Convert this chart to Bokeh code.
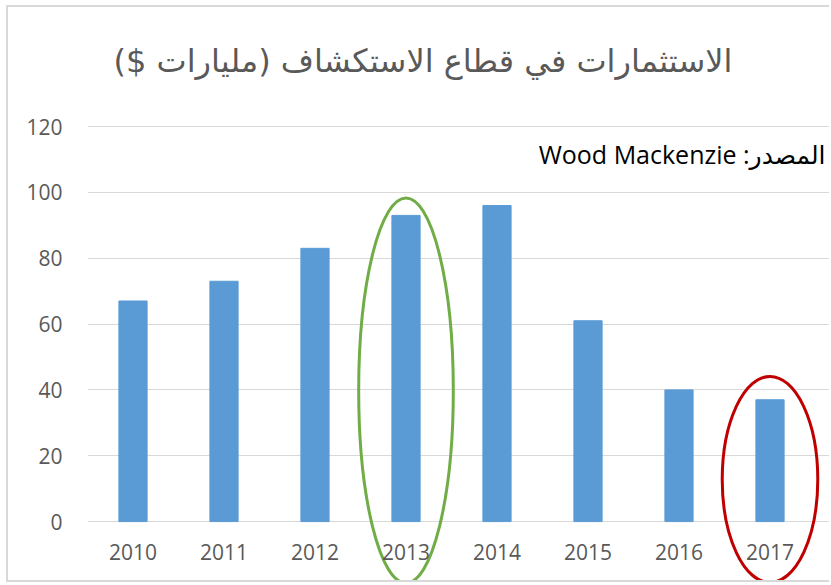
from bokeh.plotting import figure
from bokeh.models import Range1d, FixedTicker, Label, ColumnDataSource
from bokeh.embed import file_html
from bokeh.resources import INLINE

years = ["2010", "2011", "2012", "2013", "2014", "2015", "2016", "2017"]
investment = [67, 73, 83, 93, 96, 61, 40, 37]
y_ticks = [0, 20, 40, 60, 80, 100, 120]

title_text = "الاستثمارات في قطاع الاستكشاف (مليارات $)" + "\u200F"
source_text = "Wood Mackenzie :المصدر"

# highlight ellipses: year, centre value, width (categories), height (values), colour
hl_year = ["2013", "2017"]
hl_y = [39.8, 12.8]
hl_w = [1.04, 1.05]
hl_h = [117, 62.6]
hl_color = ["#70ad47", "#c00000"]

pos = list(range(len(years)))
px_per_cat = 91.0

p = figure(
    x_range=Range1d(-0.5, len(years) - 0.5 + 14 / px_per_cat),
    y_range=Range1d(-17.9, 127.9),
    frame_width=742, frame_height=480,
    min_border_left=79, min_border_right=0, min_border_top=93, min_border_bottom=0,
    output_backend="svg", toolbar_location=None,
    title=title_text,
)
p.styles = {
    "margin-left": "6px", "margin-top": "5px",
    "border-left": "2px solid #d9d9d9",
    "border-top": "2px solid #d9d9d9",
    "border-bottom": "2px solid #d9d9d9",
}
p.title.align = "left"
p.title.offset = 26
p.title.text_font = "DejaVu Sans"
p.title.text_font_size = "32px"
p.title.text_font_style = "normal"
p.title.text_color = "#595959"
p.title.standoff = 41

src = ColumnDataSource(dict(x=pos, top=investment))
p.vbar(x="x", top="top", width=0.31, source=src, color="#5b9bd5")

esrc = ColumnDataSource(dict(x=[years.index(y) for y in hl_year], y=hl_y, w=hl_w, h=hl_h, c=hl_color))
p.ellipse(x="x", y="y", width="w", height="h", source=esrc, fill_alpha=0,
          line_color="c", line_width=3)

p.xaxis.ticker = FixedTicker(ticks=pos)
p.xaxis.major_label_overrides = {i: y for i, y in zip(pos, years)}
p.yaxis.ticker = FixedTicker(ticks=y_ticks)
p.ygrid.ticker = FixedTicker(ticks=y_ticks)
p.ygrid.grid_line_color = "#d9d9d9"
p.ygrid.grid_line_width = 1
p.xgrid.grid_line_color = None
p.outline_line_color = None

for ax in (p.xaxis, p.yaxis):
    ax.axis_line_color = None
    ax.major_tick_line_color = None
    ax.minor_tick_line_color = None
    ax.major_label_text_font = "Open Sans"
    ax.major_label_text_font_size = "21px"
    ax.major_label_text_color = "#595959"

p.yaxis.major_label_standoff = 19
p.xaxis.fixed_location = 0
p.xaxis.major_label_standoff = 16

p.add_layout(Label(x=7.61, y=111.8, text=source_text, text_align="right",
                   text_baseline="middle", text_font="Open Sans, DejaVu Sans",
                   text_font_size="25px", text_color="#000000"))

open("out.html", "w").write(file_html(p, INLINE))
